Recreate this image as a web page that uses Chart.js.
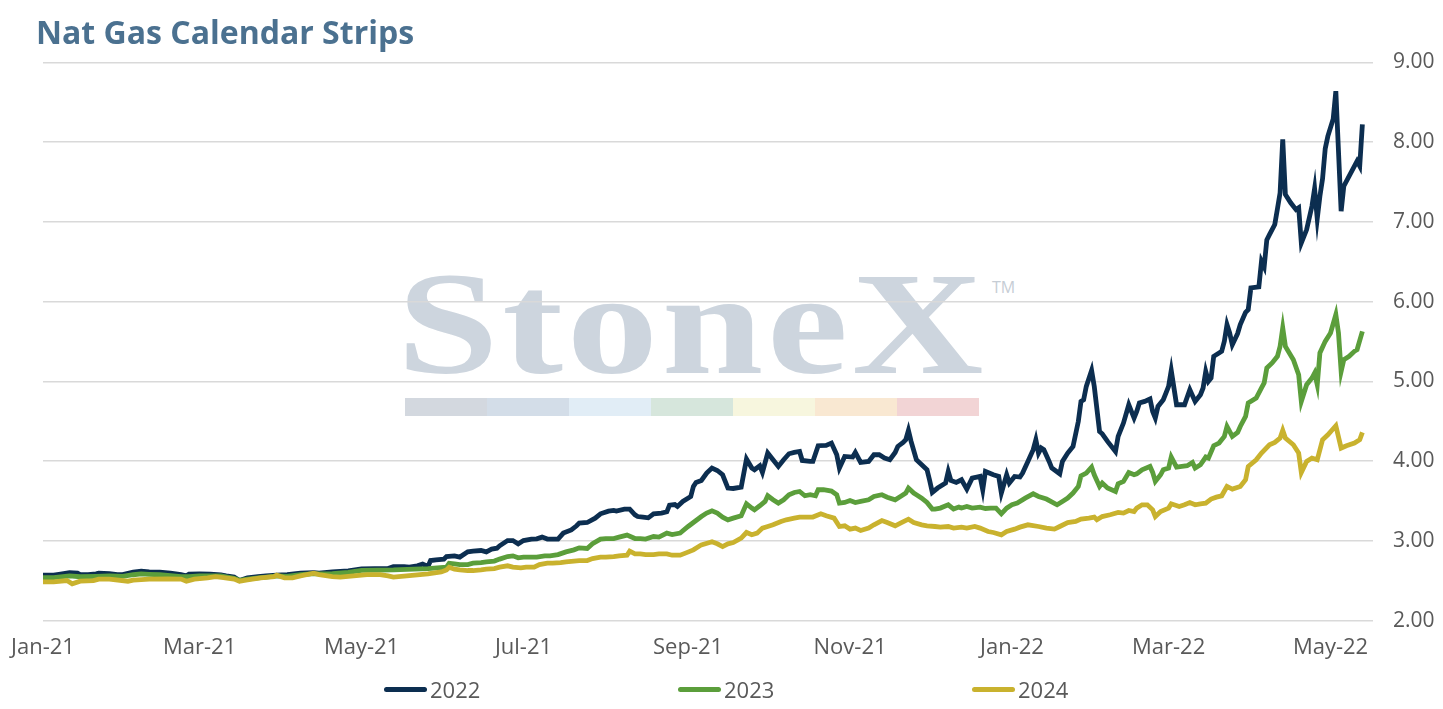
<!DOCTYPE html>
<html lang="en">
<head>
    <meta charset="UTF-8">
    <title>Nat Gas Calendar Strips</title>
    <style>
        body { margin: 0; background: #fff; }
        .wrap { position: relative; width: 1443px; height: 709px; font-family: "Open Sans", Lato, sans-serif; }
        .mark { position: absolute; left: 0; top: 0; width: 100%; height: 100%; }
        .mark .word { position: absolute; left: 397px; top: 251px; font-family: "Liberation Serif", serif; font-weight: bold; font-size: 146px; line-height: 146px; color: #cdd5de; letter-spacing: 3px; transform: scaleX(1.25); transform-origin: left top; white-space: nowrap; }
        .mark .tm { position: absolute; left: 992px; top: 276px; font-size: 16px; color: #c6cdd5; }
        .mark .bar { position: absolute; left: 405px; top: 398px; display: flex; }
        .mark .bar span { width: 82px; height: 18px; }
        .chart { position: absolute; left: 0; top: 0; width: 1443px; height: 709px; }
        .legend { position: absolute; left: 384px; top: 676px; display: flex; }
        .legend div { width: 294px; display: flex; align-items: center; font-size: 22px; color: #595959; height: 26px; }
        .legend i { display: inline-block; width: 43px; height: 5px; border-radius: 3px; margin-right: 3px; }
    </style>
</head>
<body>
    <div class="wrap">
        <div class="mark">
            <div class="word">StoneX</div>
            <div class="tm">TM</div>
            <div class="bar">
                <span style="background:#d3d8df"></span>
                <span style="background:#d3dde8"></span>
                <span style="background:#e1edf6"></span>
                <span style="background:#d6e6dc"></span>
                <span style="background:#f7f6de"></span>
                <span style="background:#f9e8d2"></span>
                <span style="background:#f2d4d5"></span>
            </div>
        </div>
        <div class="chart"><canvas id="stripChart"></canvas></div>
        <div class="legend" id="legend"></div>
    </div>

    <script src="https://cdn.jsdelivr.net/npm/chart.js"></script>
    <script>
        // [day since 1 Jan 2021, $/MMBtu]
        const strip2022 = [[0,2.57],[4,2.57],[6,2.58],[10,2.60],[13,2.595],[14,2.577],[17,2.577],[20,2.586],[21,2.595],[25,2.59],[28,2.577],[30,2.577],[34,2.607],[37,2.62],[40,2.611],[44,2.607],[48,2.595],[52,2.577],[54,2.561],[55,2.582],[59,2.586],[63,2.582],[67,2.574],[69,2.561],[72,2.545],[74,2.502],[77,2.536],[81,2.552],[84,2.561],[88,2.57],[92,2.577],[97,2.595],[102,2.602],[104,2.595],[109,2.611],[115,2.624],[120,2.649],[125,2.653],[130,2.653],[132,2.678],[136,2.678],[138,2.67],[141,2.687],[143,2.708],[145,2.678],[146,2.753],[148,2.762],[151,2.77],[152,2.803],[155,2.812],[157,2.796],[160,2.862],[162,2.871],[165,2.879],[167,2.862],[169,2.896],[171,2.908],[172,2.938],[175,3.004],[177,3.004],[179,2.963],[181,3.004],[184,3.022],[186,3.025],[188,3.047],[190,3.022],[194,3.022],[196,3.097],[199,3.138],[201,3.189],[202,3.222],[205,3.23],[208,3.285],[210,3.339],[213,3.373],[215,3.381],[216,3.373],[219,3.398],[221,3.398],[223,3.327],[224,3.305],[226,3.298],[228,3.289],[230,3.339],[233,3.348],[235,3.364],[236,3.448],[238,3.456],[239,3.431],[241,3.494],[244,3.556],[245,3.682],[246,3.732],[248,3.757],[250,3.85],[252,3.913],[254,3.883],[256,3.829],[258,3.662],[260,3.657],[263,3.674],[265,4.026],[267,3.913],[268,3.892],[270,3.942],[271,3.858],[273,4.101],[275,4.017],[277,3.933],[279,4.017],[281,4.092],[283,4.109],[285,4.121],[286,4.008],[289,3.996],[290,3.996],[292,4.193],[295,4.197],[297,4.226],[299,4.08],[300,3.913],[302,4.059],[305,4.051],[306,4.109],[308,3.983],[311,3.996],[313,4.08],[315,4.08],[317,4.038],[319,4.017],[321,4.109],[322,4.184],[324,4.234],[325,4.268],[326,4.385],[327,4.247],[329,4.017],[333,3.892],[334,3.757],[335,3.607],[337,3.662],[340,3.725],[341,3.87],[342,3.757],[344,3.732],[346,3.766],[348,3.649],[350,3.787],[353,3.808],[354,3.641],[355,3.87],[358,3.829],[360,3.808],[361,3.6],[363,3.829],[364,3.725],[366,3.808],[368,3.8],[369,3.85],[371,3.996],[373,4.143],[374,4.268],[375,4.101],[376,4.164],[377,4.143],[379,3.996],[380,3.913],[383,3.841],[384,3.996],[386,4.101],[388,4.184],[390,4.498],[391,4.749],[392,4.77],[393,4.937],[395,5.138],[396,4.937],[398,4.372],[399,4.343],[401,4.247],[404,4.121],[405,4.31],[407,4.477],[409,4.707],[411,4.54],[412,4.623],[413,4.729],[415,4.749],[417,4.779],[418,4.623],[419,4.54],[420,4.686],[422,4.77],[423,4.854],[424,4.937],[425,5.138],[427,4.707],[429,4.707],[430,4.707],[432,4.896],[434,4.749],[436,4.833],[437,4.917],[438,5.125],[439,5.0],[440,5.042],[441,5.314],[443,5.356],[444,5.377],[445,5.502],[446,5.712],[447,5.607],[448,5.46],[450,5.6],[451,5.712],[453,5.866],[454,5.9],[455,6.172],[458,6.185],[459,6.506],[460,6.436],[461,6.775],[462,6.841],[464,6.967],[465,7.164],[466,7.365],[467,8.034],[468,7.343],[470,7.239],[472,7.154],[473,7.176],[474,6.737],[476,6.904],[478,7.197],[479,7.416],[480,7.04],[481,7.322],[482,7.542],[483,7.918],[484,8.075],[486,8.29],[487,8.64],[489,7.134],[490,7.448],[492,7.573],[494,7.698],[495,7.761],[496,7.698],[497,8.222]];

        const strip2023 = [[0,2.54],[4,2.54],[10,2.56],[14,2.55],[20,2.555],[25,2.56],[30,2.555],[34,2.575],[37,2.585],[40,2.58],[44,2.575],[48,2.565],[52,2.55],[55,2.55],[59,2.56],[63,2.56],[67,2.56],[72,2.53],[74,2.505],[77,2.52],[81,2.535],[84,2.545],[88,2.56],[92,2.555],[97,2.575],[102,2.59],[104,2.585],[109,2.59],[115,2.605],[120,2.63],[132,2.636],[145,2.653],[152,2.67],[153,2.72],[155,2.712],[157,2.703],[160,2.703],[162,2.72],[165,2.728],[167,2.737],[170,2.746],[172,2.771],[175,2.803],[177,2.812],[179,2.787],[181,2.796],[184,2.796],[186,2.796],[189,2.812],[191,2.812],[194,2.828],[197,2.862],[200,2.887],[202,2.912],[205,2.904],[207,2.963],[210,3.022],[212,3.029],[215,3.029],[217,3.047],[220,3.072],[223,3.029],[225,3.029],[227,3.022],[230,3.054],[232,3.047],[235,3.097],[237,3.079],[240,3.097],[243,3.18],[245,3.23],[248,3.305],[250,3.348],[252,3.377],[254,3.348],[256,3.298],[258,3.264],[260,3.285],[263,3.314],[264,3.389],[265,3.465],[267,3.411],[268,3.389],[270,3.44],[272,3.494],[273,3.565],[275,3.515],[277,3.473],[279,3.515],[281,3.578],[283,3.607],[285,3.619],[287,3.565],[289,3.578],[291,3.565],[292,3.641],[294,3.641],[297,3.624],[299,3.578],[300,3.473],[302,3.481],[304,3.506],[306,3.481],[308,3.494],[311,3.515],[313,3.557],[316,3.578],[318,3.548],[321,3.515],[323,3.557],[325,3.599],[326,3.662],[328,3.599],[329,3.578],[331,3.536],[333,3.481],[335,3.398],[336,3.398],[338,3.411],[341,3.452],[343,3.398],[345,3.423],[346,3.411],[348,3.431],[350,3.411],[353,3.423],[355,3.406],[357,3.411],[359,3.411],[361,3.339],[363,3.411],[365,3.452],[367,3.473],[370,3.536],[373,3.59],[375,3.557],[378,3.524],[382,3.452],[384,3.494],[386,3.536],[388,3.599],[390,3.682],[391,3.816],[393,3.85],[395,3.925],[396,3.829],[398,3.682],[399,3.725],[401,3.662],[404,3.619],[405,3.716],[407,3.745],[409,3.858],[411,3.829],[412,3.841],[414,3.892],[417,3.933],[418,3.858],[419,3.745],[421,3.829],[422,3.892],[424,3.913],[425,4.051],[427,3.925],[429,3.933],[431,3.942],[433,3.983],[434,3.913],[436,3.954],[438,4.051],[439,4.038],[441,4.193],[443,4.226],[445,4.31],[446,4.435],[448,4.31],[450,4.36],[451,4.435],[453,4.561],[454,4.729],[457,4.791],[459,4.917],[460,4.98],[461,5.168],[463,5.231],[465,5.314],[466,5.439],[467,5.67],[468,5.439],[471,5.272],[473,5.084],[474,4.749],[476,4.958],[478,5.042],[479,5.105],[480,4.958],[481,5.356],[483,5.502],[485,5.607],[487,5.837],[488,5.607],[489,5.125],[490,5.272],[492,5.314],[494,5.377],[495,5.398],[497,5.627]];

        const strip2024 = [[0,2.486],[4,2.486],[9,2.502],[11,2.461],[14,2.494],[19,2.502],[21,2.52],[25,2.52],[32,2.494],[34,2.507],[40,2.52],[47,2.524],[52,2.52],[54,2.494],[57,2.52],[62,2.536],[65,2.552],[68,2.54],[72,2.52],[74,2.494],[77,2.511],[82,2.536],[87,2.552],[88,2.57],[91,2.536],[94,2.536],[97,2.561],[102,2.595],[104,2.577],[109,2.552],[112,2.545],[117,2.561],[122,2.577],[127,2.577],[130,2.561],[132,2.545],[137,2.561],[142,2.577],[145,2.586],[150,2.611],[152,2.636],[153,2.67],[155,2.645],[157,2.636],[160,2.628],[162,2.628],[165,2.636],[167,2.645],[170,2.653],[172,2.67],[175,2.687],[177,2.67],[180,2.661],[182,2.67],[185,2.67],[187,2.703],[190,2.72],[192,2.72],[195,2.728],[197,2.737],[200,2.746],[202,2.753],[205,2.753],[207,2.778],[210,2.796],[212,2.796],[215,2.803],[217,2.812],[220,2.82],[221,2.871],[223,2.837],[225,2.837],[227,2.828],[230,2.828],[232,2.837],[235,2.837],[237,2.82],[240,2.82],[242,2.846],[245,2.887],[248,2.95],[252,2.988],[254,2.963],[256,2.929],[258,2.963],[260,2.979],[263,3.034],[265,3.105],[267,3.076],[269,3.097],[271,3.16],[273,3.18],[275,3.201],[278,3.243],[280,3.264],[283,3.285],[285,3.298],[288,3.298],[290,3.298],[293,3.339],[295,3.314],[298,3.285],[300,3.18],[302,3.189],[304,3.147],[306,3.16],[308,3.13],[311,3.16],[313,3.201],[316,3.255],[318,3.23],[321,3.189],[323,3.222],[326,3.272],[328,3.23],[331,3.201],[333,3.189],[336,3.18],[338,3.172],[341,3.18],[343,3.16],[346,3.172],[348,3.16],[351,3.18],[353,3.16],[356,3.117],[358,3.105],[361,3.076],[363,3.117],[366,3.147],[368,3.172],[371,3.201],[375,3.18],[378,3.16],[381,3.147],[383,3.18],[386,3.23],[389,3.243],[391,3.272],[394,3.285],[396,3.298],[397,3.264],[399,3.305],[402,3.327],[405,3.356],[407,3.348],[409,3.381],[411,3.368],[412,3.411],[414,3.452],[416,3.452],[418,3.389],[419,3.305],[421,3.368],[424,3.411],[425,3.465],[428,3.431],[430,3.452],[432,3.481],[434,3.452],[436,3.465],[438,3.473],[440,3.524],[442,3.548],[444,3.565],[446,3.682],[448,3.649],[451,3.682],[453,3.766],[454,3.933],[457,4.017],[459,4.101],[462,4.205],[464,4.234],[466,4.289],[467,4.385],[468,4.289],[471,4.205],[473,4.101],[474,3.858],[476,3.996],[478,4.038],[480,4.017],[482,4.268],[484,4.331],[487,4.444],[489,4.164],[491,4.193],[494,4.226],[496,4.268],[497,4.36]];

        const seriesNames = ['2022', '2023', '2024'];
        const tickDays = [0, 59, 120, 181, 243, 304, 365, 424, 485];
        const tickLabels = ['Jan-21', 'Mar-21', 'May-21', 'Jul-21', 'Sep-21', 'Nov-21', 'Jan-22', 'Mar-22', 'May-22'];

        const colors = ['#0c2e50', '#5b9e3b', '#c9b22e'];

        const toPoints = (rows) => rows.map(([d, v]) => ({ x: d, y: v }));

        const datasets = [strip2022, strip2023, strip2024].map((rows, i) => ({
            label: seriesNames[i],
            data: toPoints(rows),
            borderColor: colors[i],
            backgroundColor: colors[i],
            borderWidth: 4.8,
            pointRadius: 0,
            tension: 0,
            order: 3 - i // later years drawn on top
        }));

        const chart = new Chart(document.getElementById('stripChart'), {
            type: 'line',
            data: { datasets },
            options: {
                responsive: true,
                maintainAspectRatio: false,
                animation: false,
                layout: { padding: { left: 36, right: 0, top: 0, bottom: 34 } },
                scales: {
                    x: {
                        type: 'linear',
                        min: 0,
                        max: 501,
                        afterBuildTicks: (scale) => {
                            scale.ticks = tickDays.map(v => ({ value: v }));
                        },
                        afterFit: (scale) => {
                            // plot starts a little right of the title
                            scale.paddingLeft = 43;
                            scale.paddingRight = 0;
                        },
                        ticks: {
                            autoSkip: false,
                            maxRotation: 0,
                            padding: 14,
                            color: '#595959',
                            font: { family: 'Open Sans', size: 22 },
                            callback: (value, index) => tickLabels[index]
                        },
                        grid: { display: false, drawTicks: false },
                        border: { display: false }
                    },
                    y: {
                        position: 'right',
                        min: 2,
                        max: 9,
                        afterFit: (scale) => {
                            scale.width = 70;
                        },
                        ticks: {
                            stepSize: 1,
                            padding: 20,
                            color: '#595959',
                            font: { family: 'Open Sans', size: 21 },
                            callback: (value) => value.toFixed(2)
                        },
                        grid: { color: '#d9d9d9', lineWidth: 1.5, drawTicks: false },
                        border: { display: false }
                    }
                },
                plugins: {
                    legend: { display: false },
                    tooltip: { enabled: false },
                    title: {
                        display: true,
                        text: 'Nat Gas Calendar Strips',
                        align: 'start',
                        color: '#4b7190',
                        font: { family: 'Open Sans', size: 32, weight: 'bold' },
                        padding: { top: 16, bottom: 8 }
                    }
                }
            }
        });

        // html legend built from the datasets
        const legendBox = document.getElementById('legend');
        chart.data.datasets.forEach(ds => {
            const item = document.createElement('div');
            item.innerHTML = `<i style="background:${ds.borderColor}"></i>${ds.label}`;
            legendBox.appendChild(item);
        });
    </script>
</body>
</html>
